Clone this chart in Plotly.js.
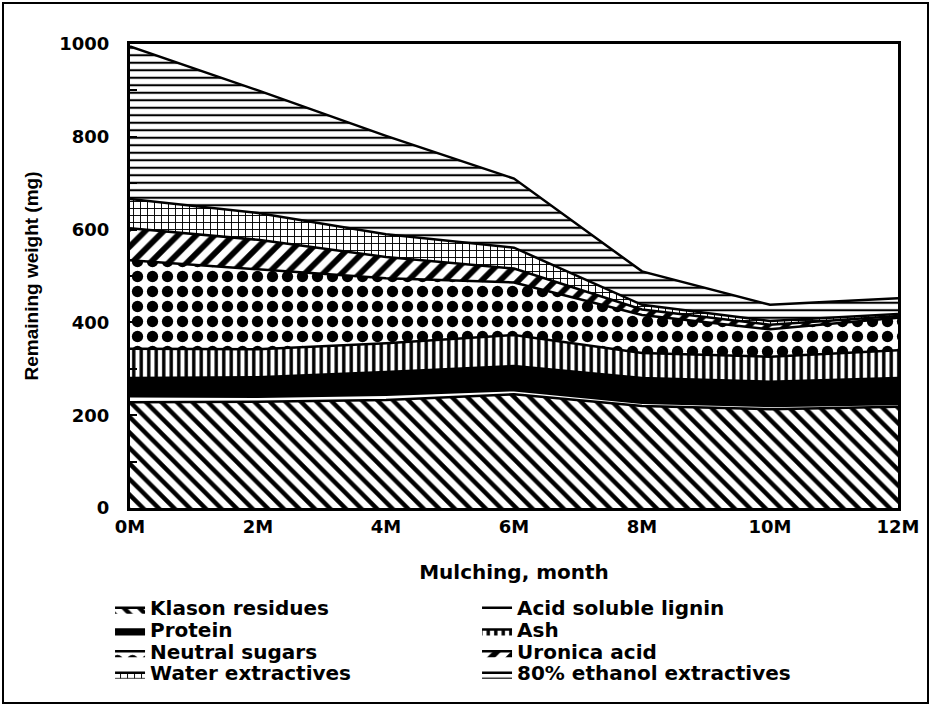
<!DOCTYPE html>
<html>
<head>
<meta charset="utf-8">
<script src="https://cdn.plot.ly/plotly-3.0.1.min.js"></script>
<style>body{margin:0;background:#fff;} #chart{width:932px;height:707px;}</style>
</head>
<body>
<div id="chart"></div>
<script>
const months = [0, 2, 4, 6, 8, 10, 12];
const tickLabels = ['0M', '2M', '4M', '6M', '8M', '10M', '12M'];
const klason = [228, 229, 233, 245, 220, 213, 218];
const acidSolubleLignin = [13, 11, 11, 9, 7, 7, 6];
const protein = [39, 42, 49, 52, 53, 52, 56];
const ash = [63, 60, 62, 67, 54, 54, 60];
const neutralSugars = [191, 173, 140, 113, 82, 59, 70];
const uronicAcid = [69, 63, 46, 30, 12, 10, 4];
const waterExtractives = [63, 58, 49, 45, 10, 8, 4];
const ethanolExtractives = [329, 264, 212, 149, 72, 35, 34];

const seriesNames = ['Klason residues', 'Acid soluble lignin', 'Protein', 'Ash',
  'Neutral sugars', 'Uronica acid', 'Water extractives', '80% ethanol extractives'];
const seriesValues = [klason, acidSolubleLignin, protein, ash, neutralSugars, uronicAcid, waterExtractives, ethanolExtractives];
const patterns = [
  {shape: '\\', size: 11, solidity: 0.4},
  null,
  null,
  {shape: '|', size: 7.5, solidity: 0.45},
  {shape: '.', size: 15, solidity: 0.45},
  {shape: '/', size: 13, solidity: 0.45},
  {shape: '+', size: 7, solidity: 0.25},
  {shape: '-', size: 7.5, solidity: 0.28}
];

const traces = seriesNames.map((name, i) => {
  const t = {
    type: 'scatter', mode: 'lines',
    name: '<span style="font-size:20px">' + name + '</span>',
    x: months, y: seriesValues[i], stackgroup: 'one',
    line: {color: '#000', width: 2.5},
    fillcolor: i === 2 ? '#000000' : '#ffffff',
    hoverinfo: 'skip'
  };
  if (patterns[i]) {
    t.fillpattern = Object.assign({fgcolor: '#000', bgcolor: '#fff', fillmode: 'replace'}, patterns[i]);
  }
  return t;
});

const dv = 'DejaVu Sans, Verdana, sans-serif';
const tickFont = {family: dv, size: 18, color: '#000', weight: 'bold'};

const layout = {
  width: 932, height: 707,
  margin: {l: 130, r: 34, t: 44, b: 199, autoexpand: false},
  paper_bgcolor: '#fff', plot_bgcolor: '#fff',
  showlegend: true,
  font: tickFont,
  xaxis: {
    range: [0, 12], tickvals: months, ticktext: tickLabels,
    showline: true, linecolor: '#000', linewidth: 3, mirror: true,
    showgrid: false, zeroline: false, ticks: '', tickfont: tickFont,
    ticklabelstandoff: 0,
    title: {text: 'Mulching, month', font: {family: dv, size: 20, color: '#000', weight: 'bold'}, standoff: 30}
  },
  yaxis: {
    range: [0, 1000], dtick: 200, tick0: 0,
    showline: true, linecolor: '#000', linewidth: 3, mirror: true,
    showgrid: false, zeroline: false, ticks: 'inside', ticklen: 7, tickwidth: 2, tickcolor: '#000',
    minor: {dtick: 100, ticks: 'inside', ticklen: 7, tickwidth: 2, tickcolor: '#000'},
    tickfont: tickFont, ticklabelstandoff: 14,
    title: {text: 'Remaining weight (mg)', font: {family: 'Liberation Sans, Arial, sans-serif', size: 19, color: '#000', weight: 'bold'}, standoff: 16}
  },
  legend: {
    orientation: 'h', x: -0.026, xanchor: 'left', y: -0.185, yanchor: 'top',
    entrywidth: 322, entrywidthmode: 'pixels', traceorder: 'normal',
    font: {family: dv, size: 14.4, color: '#000', weight: 'bold'}, itemwidth: 30,
    bgcolor: 'rgba(0,0,0,0)'
  },
  shapes: [{
    type: 'rect', xref: 'paper', yref: 'paper',
    x0: (3 - 130) / 768, x1: (928 - 130) / 768,
    y0: (508 - 703) / 464, y1: (508 - 3) / 464,
    line: {color: '#000', width: 2}, fillcolor: 'rgba(0,0,0,0)', layer: 'below'
  }]
};

Plotly.newPlot('chart', traces, layout, {displayModeBar: false, staticPlot: true});
</script>
</body>
</html>
